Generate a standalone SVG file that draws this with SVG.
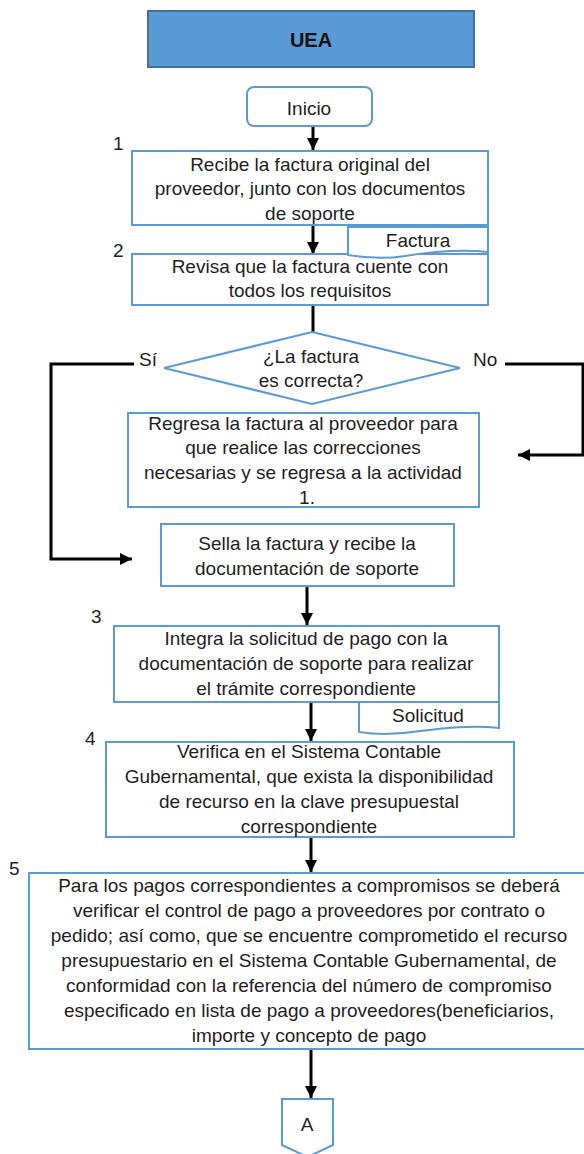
<svg xmlns="http://www.w3.org/2000/svg" width="584" height="1154" viewBox="0 0 584 1154">
  <style>
    .box { fill: #ffffff; stroke: #5B9BD5; stroke-width: 2; }
    .t { font-family: "Liberation Sans", Arial, sans-serif; font-size: 19px; fill: #1e1e1e; text-anchor: middle; }
    .num { font-family: "Liberation Sans", Arial, sans-serif; font-size: 19px; fill: #1e1e1e; }
    .lbl { font-family: "Liberation Sans", Arial, sans-serif; font-size: 19px; fill: #1e1e1e; }
    .conn { fill: none; stroke: #000000; stroke-width: 3; }
  </style>
  <defs>
    <marker id="arrow" markerUnits="userSpaceOnUse" markerWidth="14" markerHeight="14" viewBox="0 0 14 14" refX="12" refY="7" orient="auto">
      <path d="M0,1 L12,7 L0,13 Z" fill="#000000"/>
    </marker>
  </defs>
  <rect width="584" height="1154" fill="#ffffff"/>

  <!-- lane header -->
  <g id="header">
    <rect x="148" y="11" width="326" height="56" fill="#5B9BD5" stroke="#41719C" stroke-width="2"/>
    <text x="311" y="47" font-family="Liberation Sans, Arial, sans-serif" font-size="20" font-weight="bold" fill="#111" text-anchor="middle">UEA</text>
  </g>

  <!-- connectors -->
  <g id="connectors">
    <line class="conn" x1="313" y1="126" x2="313" y2="150" marker-end="url(#arrow)"/>
    <line class="conn" x1="313" y1="225" x2="313" y2="254" marker-end="url(#arrow)"/>
    <line class="conn" x1="313" y1="305" x2="313" y2="332"/>
    <polyline class="conn" points="134,364 51,364 51,559 132,559" marker-end="url(#arrow)"/>
    <polyline class="conn" points="505,364 583,364 583,455 518,455" marker-end="url(#arrow)"/>
    <line class="conn" x1="307" y1="587" x2="307" y2="625" marker-end="url(#arrow)"/>
    <line class="conn" x1="311" y1="703" x2="311" y2="741" marker-end="url(#arrow)"/>
    <line class="conn" x1="311" y1="838" x2="311" y2="872" marker-end="url(#arrow)"/>
    <line class="conn" x1="311" y1="1050" x2="311" y2="1098" marker-end="url(#arrow)"/>
  </g>

  <!-- start -->
  <g id="inicio">
    <rect class="box" x="247" y="87" width="125" height="39" rx="7"/>
    <text class="t" x="309" y="115">Inicio</text>
  </g>

  <!-- step 1 -->
  <g id="paso1">
    <text class="num" x="113" y="150">1</text>
    <rect class="box" x="132" y="151" width="356" height="74"/>
    <text class="t" x="310" y="171">Recibe la factura original del</text>
    <text class="t" x="310" y="195">proveedor, junto con los documentos</text>
    <text class="t" x="310" y="220">de soporte</text>
  </g>

  <!-- step 2 -->
  <g id="paso2">
    <text class="num" x="113" y="257">2</text>
    <rect class="box" x="132" y="254" width="356" height="51"/>
    <text class="t" x="310" y="273">Revisa que la factura cuente con</text>
    <text class="t" x="310" y="297">todos los requisitos</text>
  </g>

  <!-- document: Factura -->
  <g id="doc-factura">
    <path class="box" d="M348,227 H488 V252 C460,249 430,252 405,256 C380,260 360,257 348,255 Z"/>
    <text class="t" x="418" y="247">Factura</text>
  </g>

  <!-- decision -->
  <g id="decision">
    <polygon class="box" points="312,332 460,368 312,404 164,368"/>
    <text class="t" x="311" y="363">¿La factura</text>
    <text class="t" x="311" y="387">es correcta?</text>
    <text class="lbl" x="139" y="366">Sí</text>
    <text class="lbl" x="473" y="366">No</text>
  </g>

  <!-- return to supplier -->
  <g id="regresa">
    <rect class="box" x="128" y="413" width="351" height="94"/>
    <text class="t" x="303" y="430">Regresa la factura al proveedor para</text>
    <text class="t" x="303" y="454">que realice las correcciones</text>
    <text class="t" x="303" y="479">necesarias y se regresa a la actividad</text>
    <text class="t" x="307" y="504">1.</text>
  </g>

  <!-- stamp invoice -->
  <g id="sella">
    <rect class="box" x="161" y="524" width="293" height="62"/>
    <text class="t" x="307" y="550">Sella la factura y recibe la</text>
    <text class="t" x="307" y="575">documentación de soporte</text>
  </g>

  <!-- step 3 -->
  <g id="paso3">
    <text class="num" x="91" y="623">3</text>
    <rect class="box" x="114" y="626" width="385" height="76"/>
    <text class="t" x="306" y="645">Integra la solicitud de pago con la</text>
    <text class="t" x="306" y="670">documentación de soporte para realizar</text>
    <text class="t" x="306" y="695">el trámite correspondiente</text>
  </g>

  <!-- document: Solicitud -->
  <g id="doc-solicitud">
    <path class="box" d="M359,702 H499 V728 C472,725 445,728 420,731 C395,735 372,734 359,732 Z"/>
    <text class="t" x="428" y="722">Solicitud</text>
  </g>

  <!-- step 4 -->
  <g id="paso4">
    <text class="num" x="85" y="745">4</text>
    <rect class="box" x="106" y="742" width="408" height="95"/>
    <text class="t" x="309" y="758">Verifica en el Sistema Contable</text>
    <text class="t" x="309" y="783">Gubernamental, que exista la disponibilidad</text>
    <text class="t" x="309" y="808">de recurso en la clave presupuestal</text>
    <text class="t" x="309" y="833">correspondiente</text>
  </g>

  <!-- step 5 -->
  <g id="paso5">
    <text class="num" x="9" y="875">5</text>
    <rect class="box" x="29" y="873" width="561" height="176"/>
    <text class="t" x="309" y="892">Para los pagos correspondientes a compromisos se deberá</text>
    <text class="t" x="309" y="917">verificar el control de pago a proveedores por contrato o</text>
    <text class="t" x="309" y="942">pedido; así como, que se encuentre comprometido el recurso</text>
    <text class="t" x="309" y="967">presupuestario en el Sistema Contable Gubernamental, de</text>
    <text class="t" x="309" y="992">conformidad con la referencia del número de compromiso</text>
    <text class="t" x="309" y="1017">especificado en lista de pago a proveedores(beneficiarios,</text>
    <text class="t" x="309" y="1042">importe y concepto de pago</text>
  </g>

  <!-- off-page connector -->
  <g id="conector-a">
    <path class="box" d="M282,1099 H333 V1145 L307.5,1157 L282,1145 Z"/>
    <text class="t" x="307" y="1131">A</text>
  </g>
</svg>
